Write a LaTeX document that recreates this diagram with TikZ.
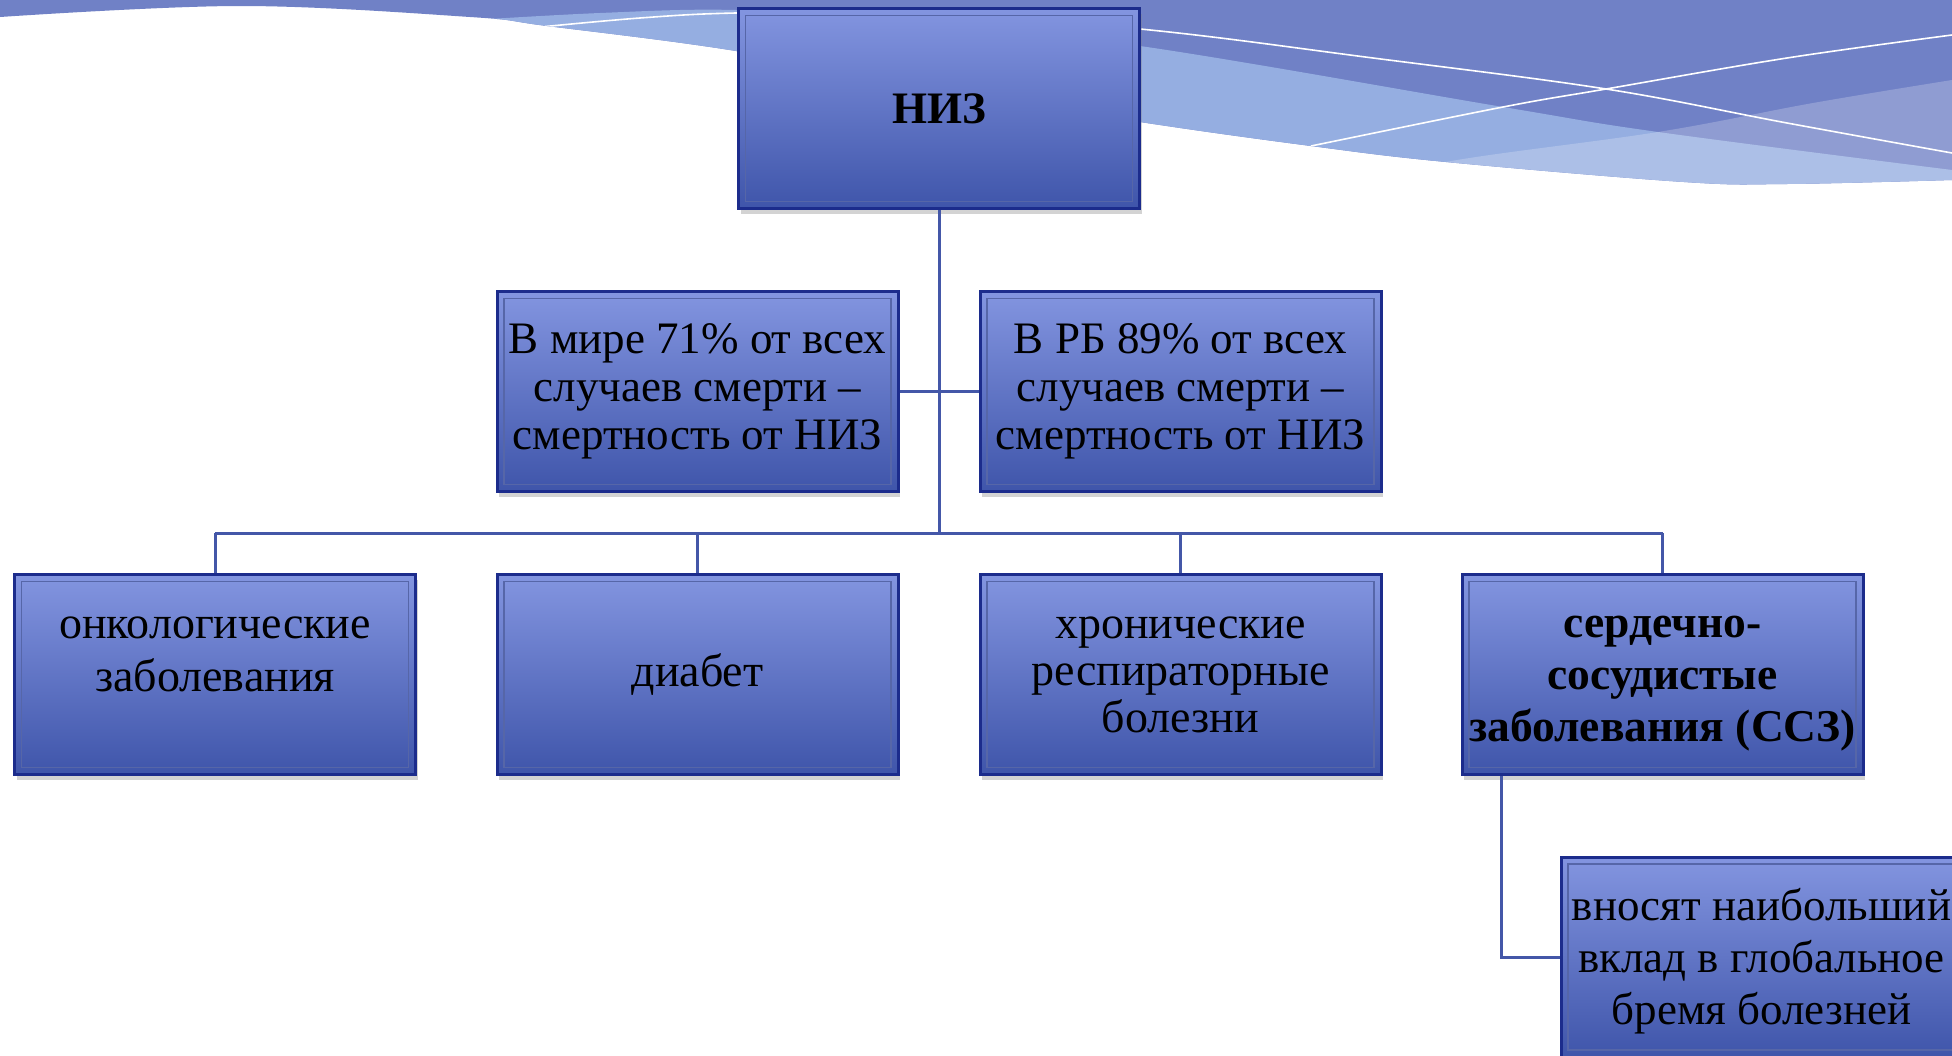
\documentclass[tikz,border=0pt]{standalone}
\usepackage{fontspec}
\setmainfont{Liberation Serif}
\usepackage{tikz}
\usetikzlibrary{shadows}
\definecolor{wtop}{HTML}{7081C6}
\definecolor{wlight}{HTML}{95AEE1}
\definecolor{btop}{HTML}{8395E0}
\definecolor{bbot}{HTML}{3F55AA}
\definecolor{bedge}{HTML}{1C2C8C}
\definecolor{binner}{HTML}{5666A8}
\definecolor{lnk}{HTML}{4457A8}
\tikzset{nbox/.style = {draw=bedge, line width=3pt, top color=btop, bottom color=bbot,
                        minimum width=401, minimum height=200, inner sep=0, align=center,
                        font=\fontsize{46}{53}\selectfont,
                        drop shadow={shadow xshift=2pt, shadow yshift=-5pt, opacity=0.35},
                        path picture={\draw [binner, line width=1.2pt]
                          ([shift={(7pt,7pt)}]path picture bounding box.south west) rectangle
                          ([shift={(-7pt,-7pt)}]path picture bounding box.north east);}}}
\tikzset{midtext/.style = {font=\fontsize{45}{48}\selectfont}}
\tikzset{wire/.style = {draw=lnk, line width=3pt}}
\tikzset{wline/.style = {white, line width=1.6pt}}

\begin{document}
\begin{tikzpicture}[x=1pt, y=-1pt]
  \useasboundingbox (0,0) rectangle (1952,1055);
  \clip (0,0) rectangle (1952,1055);

  \begin{scope}
    \clip (0,0) -- (1952,0) -- plot [smooth, tension=0.6] coordinates {(1952,180) (1787,184)
      (1684,182) (1446,162) (1311,146) (1140,122) (930,88) (736,51) (547,26) (470,17) (240,6) (0,17)} -- cycle;
    \fill [wtop] (0,0) rectangle (1952,220);
    \fill [wlight] plot [smooth, tension=0.6] coordinates {(440,22) (600,13) (736,10) (900,20)
      (1140,46) (1503,107) (1658,132) (1952,170)} -- (1952,260) -- (440,260) -- cycle;
    \fill [white, opacity=0.22] plot [smooth, tension=0.6] coordinates {(1380,185) (1446,162)
      (1658,132) (1813,103) (1952,80)} -- (1952,260) -- cycle;
    \draw [wline] plot [smooth, tension=0.6] coordinates {(530,28) (640,18) (736,13) (900,12)
      (1140,29) (1373,58) (1606,89) (1787,123) (1952,153)};
    \draw [wline] plot [smooth, tension=0.6] coordinates {(1311,146) (1503,107) (1606,89)
      (1787,58) (1952,35)};
  \end{scope}

  \node [nbox, font=\fontsize{45}{53}\bfseries] (niz) at (939,108.5) {НИЗ};
  \node [nbox, midtext] (world) at (697.5,391.5) {В мире 71\% от всех\\случаев смерти –\\смертность от НИЗ};
  \node [nbox, midtext] (rb) at (1180.5,391.5) {В РБ 89\% от всех\\случаев смерти –\\смертность от НИЗ};

  \node [nbox, text depth=40pt] (onco) at (215,674.5) {онкологические\\заболевания};
  \node [nbox] (diab) at (697.5,674.5) {диабет};
  \node [nbox, font=\fontsize{46}{47}\selectfont] (resp) at (1180.5,674.5) {хронические\\респираторные\\болезни};
  \node [nbox, font=\fontsize{45.5}{52}\bfseries] (ssz) at (1662.5,674.5) {\rule{0pt}{39pt}сердечно-\\сосудистые\\заболевания (ССЗ)};
  \node [nbox, font=\fontsize{45}{52}\selectfont] (burden) at (1761.5,957) {\rule{0pt}{41pt}вносят наибольший\\вклад в глобальное\\бремя болезней};

  \coordinate (bus) at (939,533);
  \draw [wire] (niz.south) -- (bus);
  \draw [wire] (world.east) -- (rb.west);
  \draw [wire] (onco.north |- bus) -- (ssz.north |- bus);
  \foreach \n in {onco, diab, resp, ssz}
    \draw [wire] (\n.north |- bus) -- (\n.north);
  \draw [wire] ([xshift=41pt]ssz.south west) |- (burden.west);
\end{tikzpicture}
\end{document}
